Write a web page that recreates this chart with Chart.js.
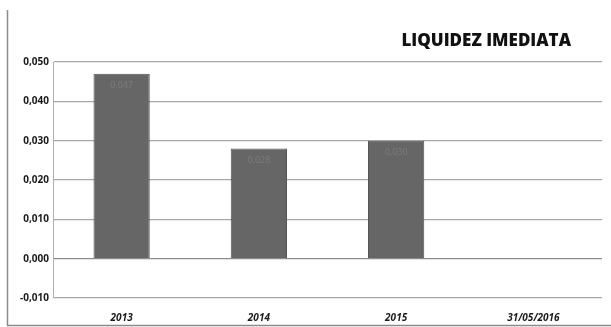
<!DOCTYPE html>
<html>
<head>
<meta charset="utf-8">
<script src="https://cdn.jsdelivr.net/npm/chart.js@4/dist/chart.umd.min.js"></script>
<style>
  html, body { margin: 0; padding: 0; background: #fff; }
  #wrap { width: 611px; height: 327px; }
</style>
</head>
<body>
<div id="wrap"><canvas id="liquidez" width="611" height="327"></canvas></div>
<script>
var categories = ["2013", "2014", "2015", "31/05/2016"];
var liquidezValues = [0.047, 0.028, 0.030, 0];
var tickValues = [-0.010, 0.000, 0.010, 0.020, 0.030, 0.040, 0.050];
var chartTitle = "LIQUIDEZ IMEDIATA";

function fmt(v) {
  return v.toFixed(3).replace(".", ",");
}

// frame, title and the faint value labels inside the bars
var decor = {
  id: "decor",
  beforeDraw: function (chart) {
    var ctx = chart.ctx;
    ctx.save();
    ctx.fillStyle = "#fff";
    ctx.fillRect(0, 0, chart.width, chart.height);
    ctx.strokeStyle = "#8a8a8a";
    ctx.lineWidth = 1.5;
    ctx.beginPath();
    ctx.moveTo(7.5, 10);
    ctx.lineTo(7.5, 325.5);
    ctx.lineTo(611, 325.5);
    ctx.stroke();
    ctx.restore();
  },
  afterDraw: function (chart) {
    var ctx = chart.ctx;
    ctx.save();
    ctx.font = "800 17px 'Open Sans'";
    ctx.fillStyle = "#111";
    ctx.textAlign = "right";
    ctx.textBaseline = "middle";
    ctx.fillText(chartTitle, 571, 41);

    var meta = chart.getDatasetMeta(0);
    ctx.font = "9px 'Open Sans'";
    ctx.fillStyle = "#7c7c7c";
    ctx.textAlign = "center";
    meta.data.forEach(function (bar, i) {
      if (liquidezValues[i] > 0) {
        ctx.fillText(fmt(liquidezValues[i]), bar.x, bar.y + 12);
      }
    });
    ctx.restore();
  }
};

new Chart(document.getElementById("liquidez"), {
  type: "bar",
  data: {
    labels: categories,
    datasets: [{
      data: liquidezValues,
      backgroundColor: "#666666",
      borderColor: "#555555",
      borderWidth: 1,
      categoryPercentage: 1,
      barPercentage: 0.41
    }]
  },
  options: {
    responsive: false,
    animation: false,
    layout: { padding: { top: 62, right: 9, left: 0, bottom: 0 } },
    plugins: {
      legend: { display: false },
      tooltip: { enabled: false }
    },
    scales: {
      x: {
        grid: { display: false },
        border: { display: false },
        ticks: {
          color: "#1a1a1a",
          font: { family: "'Open Sans'", size: 10, weight: "bold", style: "italic" },
          padding: 6,
          maxRotation: 0
        },
        afterFit: function (s) { s.height = 29; }
      },
      y: {
        min: -0.01,
        max: 0.05,
        afterBuildTicks: function (s) {
          s.ticks = tickValues.map(function (v) { return { value: v }; });
        },
        grid: {
          color: function (c) { return c.tick && c.tick.value === 0 ? "#8c8c8c" : "#a8a8a8"; },
          lineWidth: 1.2,
          drawTicks: false
        },
        border: { display: true, color: "#b0b0b0", width: 1 },
        ticks: {
          color: "#1a1a1a",
          font: { family: "'Open Sans'", size: 10, weight: "bold" },
          padding: 4,
          callback: function (v) { return fmt(v); }
        },
        afterFit: function (s) { s.width = 53; }
      }
    }
  },
  plugins: [decor]
});
</script>
</body>
</html>
